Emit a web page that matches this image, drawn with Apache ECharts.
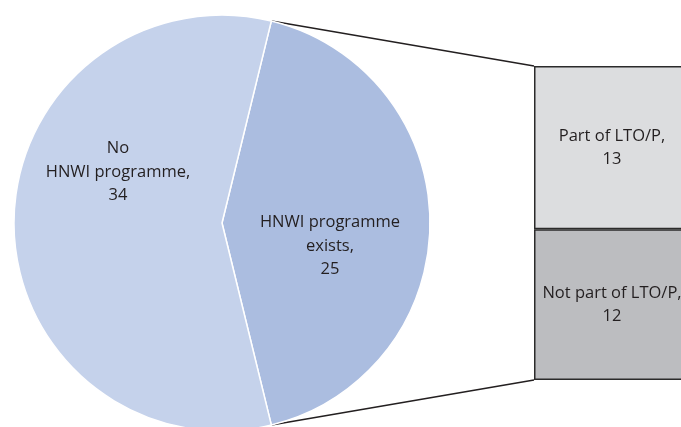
<!DOCTYPE html>
<html>
<head>
    <meta charset="utf-8">
    <title>HNWI programmes</title>
    <script type="text/javascript" src="https://cdn.jsdelivr.net/npm/echarts@6/dist/echarts.min.js"></script>
    <style>
        html, body { margin: 0; padding: 0; background: #fff; }
    </style>
</head>
<body>
    <div id="main" style="width:681px; height:427px;"></div>
    <script type="text/javascript">

    // pie data
    var pieNames = ['HNWI programme\nexists', 'No\nHNWI programme'];
    var pieValues = [25, 34];
    // breakdown of the "exists" slice
    var barNames = ['Part of LTO/P', 'Not part of LTO/P'];
    var barValues = [13, 12];

    var textColor = '#231f20';
    var font = '"Open Sans", "Noto Sans", sans-serif';
    var fontSize = 16.5;

    // layout
    var pieCenter = [222, 223];
    var pieRadius = 208;
    var gridLeft = 534, gridTop = 66, gridHeight = 314, gridWidth = 156;

    var total = pieValues[0] + pieValues[1];
    var halfAngle = pieValues[0] / total * 360 / 2;   // keep the "exists" slice centred on 3 o'clock

    // connector lines from the slice edges to the bar corners
    var rad = halfAngle * Math.PI / 180;
    var edgeX = pieCenter[0] + pieRadius * Math.cos(rad);
    var edgeDy = pieRadius * Math.sin(rad);

    var myChart = echarts.init(document.getElementById('main'));

    // label nudges per slice
    var labelShift = [[1, 23], [3, -51]];

    var option = {
        backgroundColor: '#fff',
        animation: false,
        textStyle: { fontFamily: font },
        grid: {
            left: gridLeft,
            top: gridTop,
            width: gridWidth,
            height: gridHeight,
            outerBoundsMode: 'none',
            containLabel: false
        },
        xAxis: {
            type: 'category',
            data: ['x'],
            show: false
        },
        yAxis: {
            type: 'value',
            min: 0,
            max: barValues[0] + barValues[1],
            show: false
        },
        graphic: [
            {
                type: 'line',
                silent: true,
                shape: { x1: edgeX, y1: pieCenter[1] - edgeDy, x2: gridLeft, y2: gridTop },
                style: { stroke: '#231f20', lineWidth: 1.5 }
            },
            {
                type: 'line',
                silent: true,
                shape: { x1: edgeX, y1: pieCenter[1] + edgeDy, x2: gridLeft, y2: gridTop + gridHeight },
                style: { stroke: '#231f20', lineWidth: 1.5 }
            }
        ],
        series: [
            {
                type: 'pie',
                center: pieCenter,
                radius: pieRadius,
                startAngle: halfAngle,
                clockwise: true,
                silent: true,
                itemStyle: { borderColor: '#fff', borderWidth: 1.5 },
                label: {
                    position: 'inside',
                    color: textColor,
                    fontSize: fontSize,
                    lineHeight: 23.5,
                    fontFamily: font,
                    formatter: function (p) { return p.name + ',\n' + p.value; }
                },
                labelLine: { show: false },
                labelLayout: function (p) {
                    var s = labelShift[p.dataIndex];
                    return { dx: s[0], dy: s[1] };
                },
                data: [
                    { name: pieNames[0], value: pieValues[0], itemStyle: { color: '#abbde0' } },
                    { name: pieNames[1], value: pieValues[1], itemStyle: { color: '#c5d2eb' } }
                ]
            },
            {
                type: 'bar',
                stack: 'b',
                barWidth: '100%',
                silent: true,
                itemStyle: { color: '#bcbdc0', borderColor: '#2b2b2b', borderWidth: 1.5 },
                label: {
                    show: true,
                    position: 'inside',
                    color: textColor,
                    fontSize: fontSize,
                    lineHeight: 23.5,
                    fontFamily: font,
                    formatter: barNames[1] + ',\n' + barValues[1]
                },
                data: [barValues[1]]
            },
            {
                type: 'bar',
                stack: 'b',
                barWidth: '100%',
                silent: true,
                itemStyle: { color: '#dcdddf', borderColor: '#2b2b2b', borderWidth: 1.5 },
                label: {
                    show: true,
                    position: 'inside',
                    color: textColor,
                    fontSize: fontSize,
                    lineHeight: 23.5,
                    fontFamily: font,
                    formatter: barNames[0] + ',\n' + barValues[0]
                },
                data: [barValues[0]]
            }
        ]
    };

    myChart.setOption(option);
    </script>
</body>
</html>
